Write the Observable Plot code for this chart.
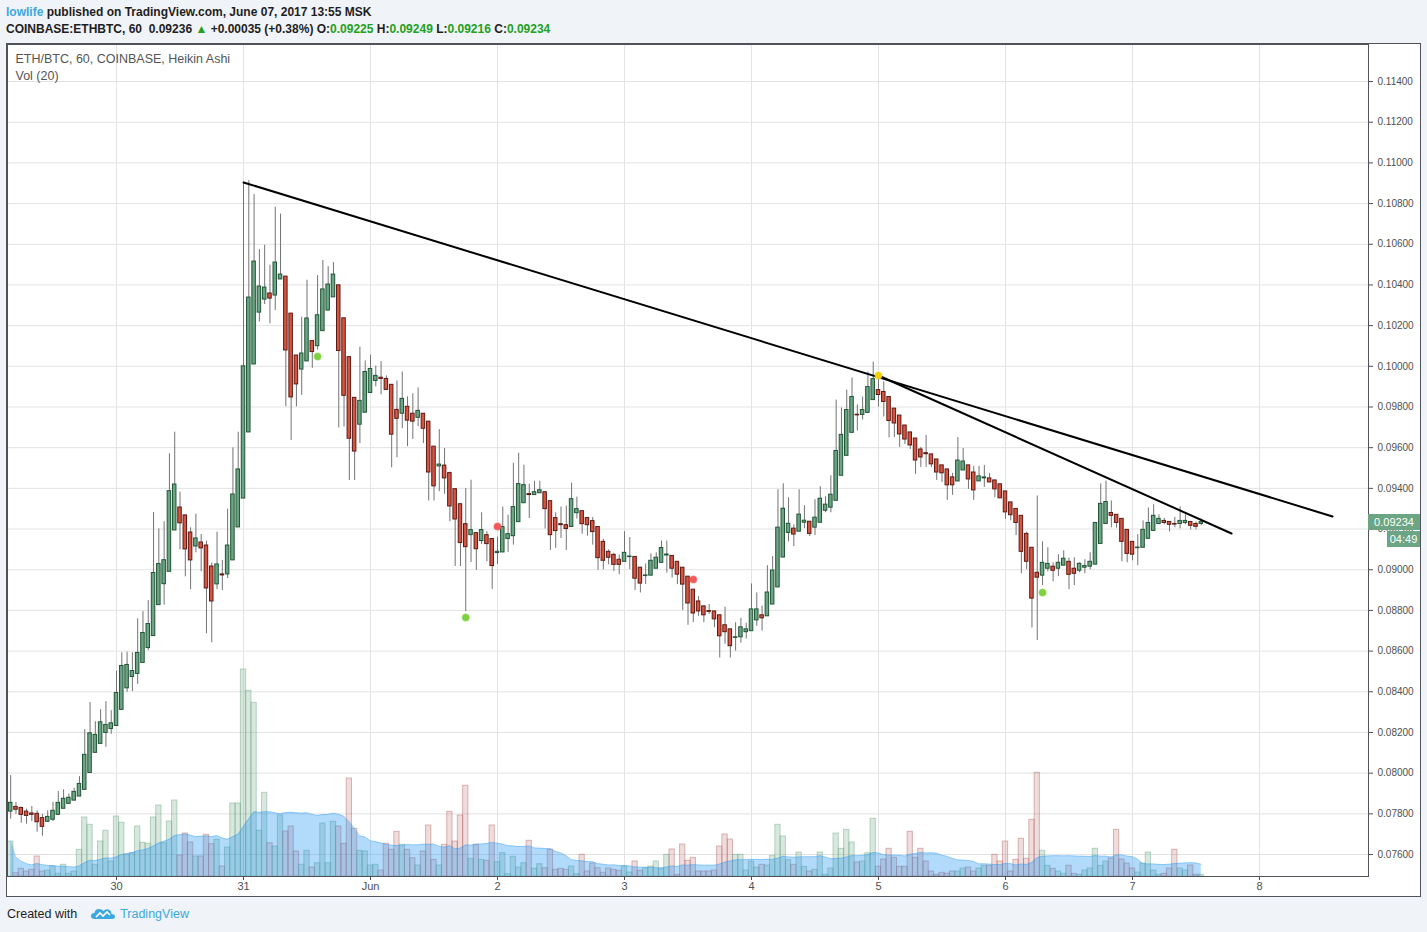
<!DOCTYPE html>
<html>
<head>
<meta charset="utf-8">
<script src="https://cdn.jsdelivr.net/npm/d3@7"></script>
<script src="https://cdn.jsdelivr.net/npm/@observablehq/plot@0.6"></script>
<style>
  html,body{margin:0;padding:0;background:#f0f3f7;}
  #page{position:relative;width:1427px;height:932px;overflow:hidden;font-family:"Liberation Sans",Arial,sans-serif;}
  .hdr{position:absolute;left:6px;white-space:nowrap;font-family:"Liberation Sans",Arial,sans-serif;font-weight:bold;font-size:12px;color:#1e1e1e;line-height:16px;}
  .hdr .g{color:#22a022;}
  #panel{position:absolute;left:6px;top:43px;width:1415px;height:854px;box-sizing:border-box;border:1px solid #50535a;background:#fff;}
  .layer{position:absolute;left:0;top:44px;}
  .layer svg{display:block;}
  .pl{position:absolute;height:16px;line-height:16px;background:#6ba583;color:#fff;font-size:11px;text-align:center;font-family:"Liberation Sans",Arial,sans-serif;}
  #footer{position:absolute;left:7px;top:906px;font-size:12.5px;color:#1e1e1e;white-space:nowrap;line-height:16px;}
  #footer .tv{color:#3ba8df;}
</style>
</head>
<body>
<div id="page">
  <div class="hdr" style="top:4px"><span style="color:#3ba8df">lowlife</span> published on TradingView.com, June 07, 2017 13:55 MSK</div>
  <div class="hdr" style="top:21px">COINBASE:ETHBTC, 60&nbsp; 0.09236 <span class="g">▲</span> +0.00035 (+0.38%) O:<span class="g">0.09225</span> H:<span class="g">0.09249</span> L:<span class="g">0.09216</span> C:<span class="g">0.09234</span></div>
  <div id="panel"></div>
  <div id="gridLayer" class="layer"></div>
  <div id="volLayer" class="layer"></div>
  <div id="mainLayer" class="layer"></div>
  <div id="footer">Created with&nbsp;
    <svg width="24" height="14" viewBox="0 0 24 14" style="vertical-align:-2px;margin:0 5px 0 7px"><path d="M4 13 Q0 13 0 10 Q0 7 3.5 7 Q4 3 8 3 Q11 3 12.5 5 Q14.5 2.5 17.5 3.5 Q20.5 4.5 20.5 8 Q24 8 24 10.5 Q24 13 21 13 Z" fill="#3ba8df"/><polyline points="5,11 9,7 12,10 16,6 19,9" fill="none" stroke="#fff" stroke-width="1.6"/></svg><span class="tv">TradingView</span></div>
</div>
<script>
// ---------------- data (prices in units of 0.00001 BTC, hourly Heikin Ashi bars) ----------------
const firstBar = "2017-05-29T04:00Z";   // open time of the first hourly bar
const haOpen = [7811,7834,7829,7811,7802,7800,7779,7761,7771,7795,7825,7849,7865,7885,7918,8001,8100,8144,8198,8217,
8232,8311,8417,8473,8488,8542,8615,8674,8826,8929,8990,9193,9306,9267,9183,9114,9134,9119,9016,8928,
8977,8977,9046,9208,9350,9675,10009,10264,10328,10358,10348,10427,10441,10259,10053,9984,10024,10124,10099,10173,
10274,10339,10398,10236,10045,9845,9713,9772,9869,9928,9944,9938,9909,9786,9767,9801,9767,9747,9767,9728,
9605,9508,9512,9475,9396,9322,9224,9170,9180,9141,9170,9151,9082,9085,9151,9165,9234,9327,9372,9367,
9376,9381,9337,9254,9224,9219,9210,9278,9288,9254,9239,9210,9137,9088,9073,9049,9039,9062,9063,9010,
8969,8971,9005,9034,9070,9068,9039,9010,8966,8902,8844,8820,8797,8795,8776,8727,8707,8665,8668,8693,
8698,8751,8776,8771,8829,8913,9060,9181,9202,9187,9231,9236,9207,9231,9290,9305,9339,9462,9560,9673,
9762,9761,9771,9834,9883,9874,9849,9792,9758,9709,9675,9645,9591,9573,9567,9542,9513,9493,9454,9434,
9488,9513,9478,9434,9449,9449,9439,9420,9385,9331,9299,9265,9176,9108,8985,8971,9005,9015,9005,9020,
9039,9005,8995,9010,9015,9025,9127,9225,9279,9270,9250,9196,9137,9106,9108,9152,9191,9225,9240,9235,
9225,9225,9230,9235,9225,9225];
const haClose = [7854,7820,7795,7790,7795,7759,7736,7785,7815,7854,7874,7879,7908,7947,8090,8196,8188,8250,8237,8245,
8394,8527,8532,8502,8591,8689,8733,8984,9028,9047,9386,9419,9228,9100,9046,9154,9105,8908,8844,9026,
8972,9119,9370,9493,10000,10338,10515,10392,10387,10333,10510,10451,10078,9847,9911,10063,10235,10070,10251,10378,
10402,10451,10075,9855,9644,9581,9830,9972,9987,9953,9938,9884,9664,9742,9840,9733,9728,9781,9693,9478,
9410,9517,9449,9311,9247,9131,9111,9195,9101,9195,9126,9018,9088,9210,9175,9308,9421,9416,9367,9381,
9391,9298,9170,9190,9219,9200,9347,9298,9224,9219,9185,9057,9044,9059,9024,9024,9083,9065,8956,8932,
8972,9044,9059,9107,9075,9005,8976,8927,8834,8785,8795,8776,8793,8756,8673,8693,8624,8668,8717,8707,
8805,8805,8761,8888,8996,9207,9300,9226,9173,9271,9241,9176,9256,9349,9320,9369,9584,9663,9785,9849,
9759,9785,9898,9937,9859,9825,9731,9719,9665,9640,9611,9537,9552,9568,9518,9478,9474,9415,9415,9537,
9532,9444,9390,9459,9454,9429,9395,9351,9282,9268,9230,9088,9039,8858,8961,9034,9029,8995,9034,9054,
8975,8980,9029,9018,9039,9230,9324,9333,9265,9230,9137,9078,9074,9109,9196,9230,9265,9250,9230,9221,
9222,9240,9240,9216,9211,9234];
const haHigh = [7988,7856,7833,7823,7836,7815,7798,7815,7856,7910,7918,7898,7926,7983,8214,8347,8253,8312,8352,8307,
8502,8592,8595,8592,8759,8794,8848,9281,9201,9236,9570,9676,9381,9270,9206,9273,9173,9141,9033,9185,
9046,9298,9599,9676,10897,10913,10844,10574,10595,10497,10782,10748,10441,10259,10053,10241,10423,10124,10446,10520,
10490,10510,10398,10236,10045,9845,10094,10026,10055,10001,10023,9953,9909,9928,9972,9850,9865,9894,9767,9728,
9605,9689,9596,9480,9396,9322,9399,9440,9180,9280,9187,9151,9160,9308,9268,9524,9573,9514,9421,9435,
9435,9381,9337,9280,9308,9313,9426,9357,9288,9254,9257,9210,9150,9098,9081,9073,9187,9158,9063,9010,
9028,9078,9083,9141,9141,9068,9039,9010,8966,8902,8868,8820,8829,8795,8776,8816,8707,8740,8761,8737,
8930,8886,8821,9020,9065,9393,9423,9354,9221,9393,9315,9236,9344,9408,9359,9462,9834,9795,9883,9942,
9810,9849,9972,10021,9940,9924,9849,9792,9758,9709,9675,9645,9601,9660,9567,9542,9513,9493,9474,9650,
9596,9513,9508,9508,9513,9474,9439,9420,9385,9331,9299,9265,9185,9108,9363,9137,9108,9034,9074,9093,
9057,9059,9034,9049,9083,9230,9422,9436,9338,9270,9250,9196,9137,9172,9240,9304,9319,9270,9253,9235,
9257,9309,9270,9235,9235,9249];
const haLow = [7774,7798,7754,7749,7762,7710,7690,7758,7762,7795,7825,7849,7865,7885,7918,8001,8100,8144,8127,8191,
8232,8311,8397,8401,8437,8542,8602,8674,8826,8826,8990,9193,9098,8965,8902,9083,8990,8685,8641,8902,
8898,8957,9046,9208,9350,9675,10009,10218,10304,10209,10274,10427,9801,9635,9801,9857,10024,9990,10080,10173,
10274,10339,9697,9702,9439,9439,9620,9772,9869,9899,9860,9884,9501,9550,9693,9605,9640,9703,9620,9338,
9338,9384,9371,9236,9016,9016,8794,9036,8997,9124,9039,8903,9026,9085,9085,9121,9234,9327,9252,9367,
9376,9200,9095,9105,9154,9095,9210,9249,9175,9165,9121,8997,9000,9024,8992,8976,9039,9000,8898,8886,
8927,8971,9005,9034,8984,8959,8927,8800,8727,8740,8771,8740,8780,8715,8566,8634,8566,8600,8639,8659,
8698,8722,8698,8771,8829,8913,9060,9137,9114,9187,9202,9163,9168,9231,9280,9280,9339,9462,9560,9673,
9682,9736,9771,9834,9800,9751,9648,9650,9601,9616,9591,9469,9503,9503,9503,9439,9429,9341,9366,9434,
9488,9395,9341,9434,9405,9429,9354,9351,9248,9240,9168,8980,9000,8714,8652,8922,8990,8941,8966,9020,
8902,8922,8985,8980,9000,9025,9127,9225,9206,9204,9039,9034,9044,9020,9108,9152,9191,9221,9221,9186,
9206,9201,9221,9196,9196,9216];
// volume per bar (relative units)
const volume = [350,33,77,50,67,200,50,60,100,27,117,27,50,267,590,517,117,350,457,150,
600,537,217,233,500,337,327,590,710,333,550,760,210,430,340,200,200,417,323,367,
100,290,730,730,2070,1857,1737,457,837,333,300,610,450,500,250,117,257,90,133,530,
133,547,500,327,980,477,257,250,110,117,60,327,267,447,317,267,183,110,250,510,
167,110,317,647,350,610,907,177,317,167,157,510,143,233,23,197,90,133,357,77,
123,83,267,67,77,67,100,23,217,50,130,83,37,80,67,57,100,40,150,57,
83,100,150,73,217,270,17,320,157,187,50,50,50,60,300,420,370,217,217,60,
150,90,117,110,207,517,400,163,117,240,97,50,67,240,17,80,430,277,467,340,
140,150,233,577,97,170,277,187,97,97,447,187,277,150,50,17,37,27,50,50,
80,90,50,80,107,107,217,150,350,50,167,377,177,567,1037,257,107,77,50,27,
107,27,17,60,80,277,107,150,180,467,170,130,80,40,130,240,60,17,27,80,
267,80,60,110,17,17];

// axes
const xDomain = ["2017-05-29T03:24Z", "2017-06-08T20:36Z"];
const yDomain = [0.07492, 0.11582];
const volDomain = [0, 8320];
const dayTicks = ["2017-05-30","2017-05-31","2017-06-01","2017-06-02","2017-06-03","2017-06-04","2017-06-05","2017-06-06","2017-06-07","2017-06-08"];
const yTicks = [0.076,0.078,0.080,0.082,0.084,0.086,0.088,0.090,0.092,0.094,0.096,0.098,0.100,0.102,0.104,0.106,0.108,0.110,0.112,0.114];

// drawn trend lines
const trendId = [1, 1, 2, 2];
const trendTime = ["2017-05-31T00:00Z", "2017-06-08T13:48Z", "2017-06-05T00:00Z", "2017-06-07T18:43Z"];
const trendPrice = [0.10904, 0.09262, 0.09955, 0.09178];

// indicator dots (bar number, price, kind)
const markerBar = [59, 87, 196, 93, 130, 165];
const markerPrice = [0.10048, 0.08765, 0.08888, 0.09212, 0.08952, 0.09955];
const markerKind = ["low", "low", "low", "high", "high", "pivot"];

const lastPrice = 0.09234;
const countdown = "04:49";
const chartTitle = "ETH/BTC, 60, COINBASE, Heikin Ashi";
const volTitle = "Vol (20)";

// ---------------- build ----------------
const HOUR = 3600e3;
const t0 = +new Date(firstBar);
const P = 1e-5;
const bars = haOpen.map((o, i) => ({
  t: new Date(t0 + i * HOUR),
  o: o * P, c: haClose[i] * P, h: haHigh[i] * P, l: haLow[i] * P,
  v: volume[i],
  up: haClose[i] >= o
}));
bars.forEach((b, i) => {
  const s = bars.slice(Math.max(0, i - 19), i + 1);
  b.ma = d3.mean(s, d => d.v);
});
const trend = trendId.map((id, i) => ({id, t: new Date(trendTime[i]), p: trendPrice[i]}));
const markerColor = {low: "#7ed23f", high: "#f25a5a", pivot: "#f5d000"};
const markers = markerBar.map((b, i) => ({t: new Date(t0 + (b - 1) * HOUR), p: markerPrice[i], c: markerColor[markerKind[i]]}));

const W = 1427, Hh = 852;
const dims = {width: W, height: Hh, marginLeft: 7, marginRight: 59, marginTop: 0, marginBottom: 20};
const xDom = xDomain.map(d => new Date(d));
const ticksX = dayTicks.map(d => new Date(d + "T00:00Z"));
const style = {background: "transparent", fontFamily: "'Liberation Sans', Arial, sans-serif", fontSize: "11px", overflow: "visible"};

const gridPlot = Plot.plot({
  ...dims, style,
  x: {type: "utc", domain: xDom, axis: null},
  y: {domain: yDomain, axis: null},
  marks: [
    Plot.gridX(ticksX, {stroke: "#e3e3e3", strokeOpacity: 1}),
    Plot.gridY(yTicks, {stroke: "#e3e3e3", strokeOpacity: 1})
  ]
});
document.getElementById("gridLayer").append(gridPlot);

const volPlot = Plot.plot({
  ...dims, style,
  x: {type: "utc", domain: xDom, axis: null},
  y: {domain: volDomain, axis: null},
  color: {type: "identity"},
  marks: [
    Plot.rect(bars, {
      x1: d => new Date(+d.t - 0.5 * HOUR), x2: d => new Date(+d.t + 0.5 * HOUR),
      y1: 0, y2: "v",
      fill: d => d.up ? "#6ba583" : "#b46464",
      stroke: d => d.up ? "#6ba583" : "#b46464"
    }),
    Plot.area(bars, {x1: "t", y1: 0, y2: "ma", fill: "#2196f3", fillOpacity: 0.35}),
    Plot.line(bars, {x: "t", y: "ma", stroke: "#2196f3", strokeOpacity: 0.3, strokeWidth: 1})
  ]
});
// soften volume bars
volPlot.querySelectorAll("rect").forEach(r => {
  r.setAttribute("fill-opacity", r.getAttribute("fill") === "#6ba583" ? 0.26 : 0.22);
  r.setAttribute("stroke-opacity", 0.45);
});
document.getElementById("volLayer").append(volPlot);

const mainPlot = Plot.plot({
  ...dims, style,
  x: {type: "utc", domain: xDom},
  y: {domain: yDomain},
  color: {type: "identity"},
  marks: [
    Plot.ruleX(bars, {x: "t", y1: "l", y2: "h", stroke: "#737375", strokeWidth: 1}),
    Plot.rect(bars, {
      x1: d => new Date(+d.t - 0.33 * HOUR), x2: d => new Date(+d.t + 0.33 * HOUR),
      y1: "o", y2: "c",
      fill: d => d.up ? "#6ba583" : "#d75442",
      stroke: d => d.up ? "#225437" : "#5b1a13", strokeWidth: 1
    }),
    Plot.line(trend, {x: "t", y: "p", z: "id", stroke: "#000", strokeWidth: 2}),
    Plot.dot(markers, {x: "t", y: "p", r: 3.5, fill: "c", stroke: "c", strokeOpacity: 0.4}),
    Plot.text([chartTitle], {frameAnchor: "top-left", dx: 8, dy: 10, fill: "#555", fontSize: 12.5, fontWeight: 500, lineAnchor: "top"}),
    Plot.text([volTitle], {frameAnchor: "top-left", dx: 8, dy: 27, fill: "#555", fontSize: 12.5, lineAnchor: "top"}),
    Plot.frame({stroke: "#50535a"}),
    Plot.axisX(ticksX, {tickFormat: d => d.getUTCDate() === 1 ? "Jun" : String(d.getUTCDate()), tickSize: 4, tickPadding: 2, fontSize: 11, color: "#4f4f4f", label: null}),
    Plot.axisY(yTicks, {anchor: "right", tickFormat: d3.format(".5f"), tickSize: 4, tickPadding: 5, fontSize: 10, color: "#4f4f4f", label: null})
  ]
});
document.getElementById("mainLayer").append(mainPlot);

// last-price label on the axis
const py = 44 + mainPlot.scale("y").apply(lastPrice);
const page = document.getElementById("page");
const lab1 = document.createElement("div");
lab1.className = "pl";
lab1.style.cssText = `left:1368px;width:52px;top:${py - 8}px;`;
lab1.textContent = d3.format(".5f")(lastPrice);
const lab2 = document.createElement("div");
lab2.className = "pl";
lab2.style.cssText = `left:1387px;width:33px;top:${py + 9}px;`;
lab2.textContent = countdown;
page.append(lab1, lab2);
</script>
</body>
</html>
